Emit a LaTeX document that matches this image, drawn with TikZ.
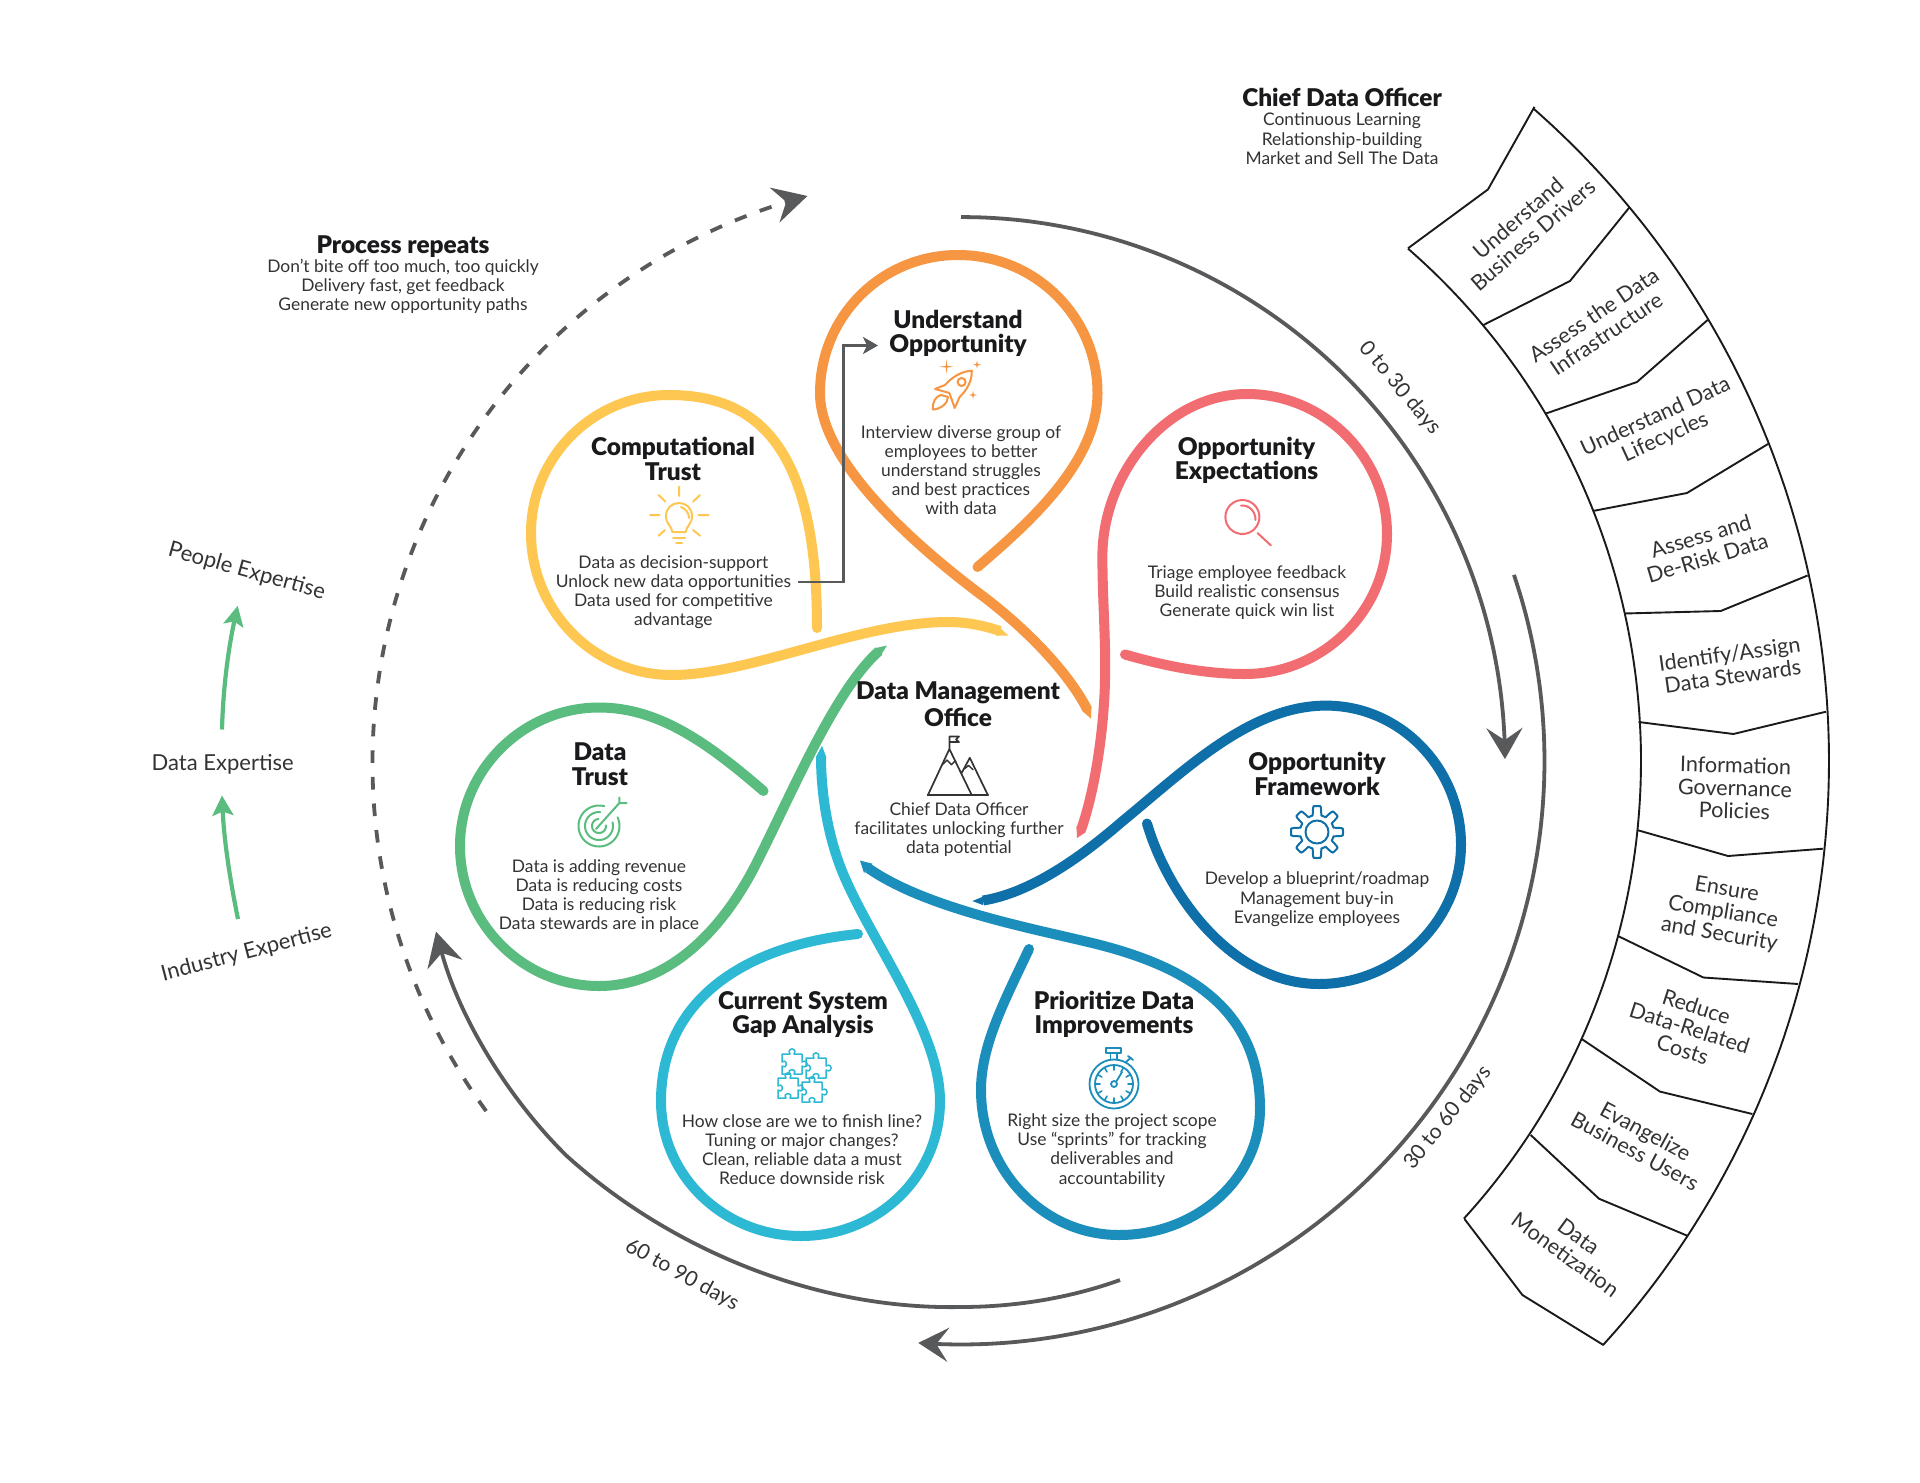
\documentclass[tikz,border=0pt]{standalone}
\usepackage{fontspec}
\setmainfont{Lato}
\newfontfamily\headfont{Lato Black}
\usetikzlibrary{arrows.meta}
\definecolor{cOrange}{HTML}{F79642}
\definecolor{cPink}{HTML}{F26D72}
\definecolor{cNavy}{HTML}{0F6FA8}
\definecolor{cTeal}{HTML}{1B8EBB}
\definecolor{cCyan}{HTML}{2DB9D3}
\definecolor{cGreen}{HTML}{5ABC7E}
\definecolor{cYellow}{HTML}{FEC752}
\definecolor{cGray}{HTML}{58595B}
\definecolor{cInk}{HTML}{1A1A1C}
\definecolor{cBody}{HTML}{333336}
\tikzset{
  bodytxt/.style={font=\fontsize{17.4}{19.1}\selectfont,align=center,text=cBody,inner sep=0pt},
  headtxt/.style={font=\fontsize{24.4}{24.6}\headfont,align=center,text=cInk,inner sep=0pt},
  bandtxt/.style={font=\fontsize{21.6}{22.6}\selectfont,align=center,text=cBody,inner sep=0pt},
  sidetxt/.style={font=\fontsize{22}{24}\selectfont,align=center,text=cBody,inner sep=0pt},
  daytxt/.style={font=\fontsize{21}{24}\selectfont,align=center,text=cBody,inner sep=0pt},
  ring/.style={line width=10pt,line join=round},
  bigarc/.style={line width=3.8pt,draw=cGray},
  icon/.style={line width=2pt,line cap=round,line join=round},
  band/.style={line width=1.9pt,draw=cInk,line join=miter},
}
\newcommand{\puzzlepc}[2]{%
  \draw[icon,line width=1.5pt,cCyan,shift={(#1,#2)}] (0,0) -- (8,0) .. controls (4,-7) and (16,-7) .. (12,0) -- (20,0) -- (20,8)
   .. controls (27,4) and (27,16) .. (20,12) -- (20,20) -- (12,20) .. controls (16,14) and (4,14) .. (8,20)
   -- (0,20) -- (0,12) .. controls (6,16) and (6,4) .. (0,8) -- cycle;}
\newcommand{\sparkle}[3]{%
  \fill[cOrange] (#1-#3,#2) -- (#1-0.8,#2-0.8) -- (#1,#2-#3) -- (#1+0.8,#2-0.8) -- (#1+#3,#2) -- (#1+0.8,#2+0.8) -- (#1,#2+#3) -- (#1-0.8,#2+0.8) -- cycle;}
\begin{document}
\begin{tikzpicture}[x=1pt,y=-1pt]
\useasboundingbox (0,0) rectangle (1920,1483);
\fill[white] (0,0) rectangle (1920,1483);

% big arcs
\draw[bigarc,-{Stealth[length=31pt,width=36pt,inset=12pt]}] plot[domain=-90:-0.2,samples=40,smooth] ({961+544*cos(\x)},{761+544*sin(\x)});
\draw[bigarc,-{Stealth[length=30pt,width=34pt,inset=12pt]}] plot[domain=-18.6:94.2,samples=50,smooth] ({961+583.5*cos(\x)},{761+583.5*sin(\x)});
\draw[bigarc,-{Stealth[length=34pt,width=36pt,inset=12pt]}] (1120,1280) .. controls (1070,1298) and (1015,1307) .. (961,1307) .. controls (810,1310) and (665,1245) .. (566.4,1155.6) .. controls (510,1100) and (460,1020) .. (436,931.6);
\draw[bigarc,dash pattern=on 12.6pt off 14pt,-{Stealth[length=34pt,width=36pt,inset=12pt]}] plot[domain=143.6:254.8,samples=60,smooth] ({961+(590-0.04*(\x-143.6))*cos(\x)},{761+(590-0.04*(\x-143.6))*sin(\x)});

% rings
\draw[ring,cYellow] (817,628) .. controls (817,450) and (760,395) .. (669,395) .. controls (593,395) and (531,457) .. (531,533) .. controls (531,611) and (594,675) .. (672,675) .. controls (750,675) and (860,622) .. (948,622) .. controls (968,622) and (985,626) .. (1000,631);
\fill[cYellow] (817,628) circle (5pt) (998,626) -- (1008.6,635.7) -- (996,635.5) -- cycle;
\draw[ring,cOrange] (977.5,567) .. controls (1027.5,524) and (1097.5,463) .. (1097.5,393) .. controls (1097.5,317) and (1035,255) .. (958,255) .. controls (881,255) and (820,317) .. (820,393) .. controls (820,455) and (897,532) .. (984,597) .. controls (1030,632) and (1070,675) .. (1087.5,710);
\fill[cOrange] (977.5,567) circle (5pt) (1091,718.6) -- (1091.4,707.5) -- (1083,711.6) -- cycle;
\draw[ring,cPink] (1125,654.5) .. controls (1165,666) and (1205,674) .. (1245,674) .. controls (1323,674) and (1387,611) .. (1387,534) .. controls (1387,457) and (1324,394) .. (1247,394) .. controls (1165,394) and (1102.4,475) .. (1102.4,556.5) .. controls (1102.4,600) and (1106,640) .. (1105,680) .. controls (1104,730) and (1095,790) .. (1081,830);
\fill[cPink] (1125,654.5) circle (5pt) (1077,838) -- (1076.5,826) -- (1086,832) -- cycle;
\draw[ring,cNavy] (1147,823.5) .. controls (1168,895) and (1232,984) .. (1319,984) .. controls (1396,984) and (1461,921) .. (1461,844.6) .. controls (1461,769) and (1401,705.6) .. (1326,705.6) .. controls (1250,705.6) and (1185,770) .. (1122,821.6) .. controls (1080,858) and (1030,893) .. (983,900.5);
\fill[cNavy] (1147,823.5) circle (5pt) (972.4,901) -- (984.5,896) -- (982.8,905) -- cycle;
\draw[ring,cTeal] (1029,949) .. controls (1005,1000) and (981,1045) .. (981,1090) .. controls (981,1170) and (1043,1235) .. (1119,1235) .. controls (1197,1235) and (1260,1178) .. (1260,1108.6) .. controls (1260,1010) and (1190,966) .. (1088,942) .. controls (1030,928) and (925,908) .. (868,868);
\fill[cTeal] (1029,949) circle (5pt) (860,860.6) -- (872.5,863.7) -- (864,873) -- cycle;
\draw[ring,cCyan] (858,934) .. controls (745,945) and (661,1000) .. (661,1101) .. controls (661,1176) and (724,1236) .. (801,1236) .. controls (878,1236) and (940,1176) .. (940,1101) .. controls (940,1030) and (870,940) .. (842,871) .. controls (828,836) and (821,795) .. (821,756);
\fill[cCyan] (858,934) circle (5pt) (822,745.8) -- (816.5,755.8) -- (826,756.5) -- cycle;
\draw[ring,cGreen] (763.5,791) .. controls (710,745) and (660,707.5) .. (599,707.5) .. controls (523,707.5) and (460,770) .. (460,846) .. controls (460,923) and (523,986) .. (599,986) .. controls (665,986) and (720,935) .. (756,864) .. controls (792,793) and (835,690) .. (879,651);
\fill[cGreen] (763.5,791) circle (5pt) (887,645.5) -- (876,648) -- (880,656.5) -- cycle;

% elbow connector from the Computational Trust text to Understand Opportunity
\coordinate (elbowstart) at (798,582);
\coordinate (elbowend) at (878,345.5);
\draw[line width=2.6pt,draw=cGray,-{Stealth[length=15pt,width=17pt,inset=4pt]}] (elbowstart) -| (843.5,345.5) -- (elbowend);

% green expertise arrows
\draw[line width=4.2pt,draw=cGreen,-{Stealth[length=20pt,width=20pt,inset=4pt]}] (222,729.5) .. controls (223,690) and (228,650) .. (237.7,605.8);
\draw[line width=4.2pt,draw=cGreen,-{Stealth[length=20pt,width=21pt,inset=4pt]}] (238,919) .. controls (230,880) and (224,840) .. (222,795.5);

% right band
\draw[band] plot[domain=-48.9:42.3,samples=60,smooth] ({961+680*cos(\x)},{761+680*sin(\x)});
\draw[band] plot[domain=-48.75:42.3,samples=60,smooth] ({961+868*cos(\x)},{761+868*sin(\x)});
\draw[band] (1534.5,106.8) -- (1488,189.4) -- (1408,248.3);
\draw[band] (1629.7,207) -- (1570,281) -- (1483.4,325);
\draw[band] (1707.6,320) -- (1637,382) -- (1546,413.5);
\draw[band] (1768,444) -- (1687,493) -- (1592.8,511);
\draw[band] (1807.6,575.5) -- (1720.7,611) -- (1624,613.5);
\draw[band] (1826,711.7) -- (1733.4,734) -- (1638.6,722);
\draw[band] (1823,848.7) -- (1728,856) -- (1637,830);
\draw[band] (1798,984) -- (1703.4,977.5) -- (1618,936);
\draw[band] (1752.4,1114) -- (1660,1091.6) -- (1581.7,1039);
\draw[band] (1687,1235.6) -- (1599,1198.7) -- (1530.7,1135);
\draw[band] (1603.4,1345) -- (1522.4,1295) -- (1464.5,1219);

\node[bandtxt,rotate=41] (b1) at (1526,226.5) {Understand\\Business Drivers};
\node[bandtxt,rotate=34] (b2) at (1600,324.5) {Assess the Data\\Infrastructure};
\node[bandtxt,rotate=24.6] (b3) at (1660.6,427.5) {Understand Data\\Lifecycles};
\node[bandtxt,rotate=16.7] (b4) at (1704,547) {Assess and\\De-Risk Data};
\node[bandtxt,rotate=8] (b5) at (1731,665) {Identify/Assign\\Data Stewards};
\node[bandtxt,rotate=-1.5] (b6) at (1735,788) {Information\\Governance\\Policies};
\node[bandtxt,rotate=-9.5] (b7) at (1723,912.5) {Ensure\\Compliance\\and Security};
\node[bandtxt,rotate=-17.7] (b8) at (1689.6,1028) {Reduce\\Data-Related\\Costs};
\node[bandtxt,rotate=-28.4] (b9) at (1640.4,1141) {Evangelize\\Business Users};
\node[bandtxt,rotate=-36] (b10) at (1572,1245.7) {Data\\Monetization};

% side labels
\node[sidetxt,rotate=-15.6] (lpeople) at (246.7,571.4) {People Expertise};
\node[sidetxt] (ldata) at (222.7,764) {Data Expertise};
\node[sidetxt,rotate=14.7] (lindustry) at (246.7,952.8) {Industry Expertise};
\node[daytxt,rotate=-50] (l030) at (1400,388) {0 to 30 days};
\node[daytxt,rotate=51] (l3060) at (1448,1118) {30 to 60 days};
\node[daytxt,rotate=-28.6] (l6090) at (682,1275) {60 to 90 days};

% headers
\node[headtxt] (hproc) at (403,247) {Process repeats};
\node[bodytxt] (tproc) at (403,286.7) {Don’t bite off too much, too quickly\\Delivery fast, get feedback\\Generate new opportunity paths};
\node[headtxt] (hcdo) at (1342,97.5) {Chief Data Officer};
\node[bodytxt] (tcdo) at (1342,138.7) {Continuous Learning\\Relationship-building\\Market and Sell The Data};

% blocks
\node[headtxt] (h1) at (958,333.5) {Understand\\Opportunity};
\node[bodytxt] (t1) at (961,470) {Interview diverse group of\\employees to better\\understand struggles\\and best practices\\with data};
\node[headtxt] (h2) at (1246.5,460.5) {Opportunity\\Expectations};
\node[bodytxt] (t2) at (1247,592.5) {Triage employee feedback\\Build realistic consensus\\Generate quick win list};
\node[headtxt] (h3) at (1317,774) {Opportunity\\Framework};
\node[bodytxt] (t3) at (1317,899.2) {Develop a blueprint/roadmap\\Management buy-in\\Evangelize employees};
\node[headtxt] (h4) at (1114,1014.5) {Prioritize Data\\Improvements};
\node[bodytxt] (t4) at (1112,1150.5) {Right size the project scope\\Use “sprints” for tracking\\deliverables and\\accountability};
\node[headtxt] (h5) at (803,1014.5) {Current System\\Gap Analysis};
\node[bodytxt] (t5) at (802,1149.6) {How close are we to finish line?\\Tuning or major changes?\\Clean, reliable data a must\\Reduce downside risk};
\node[headtxt] (h6) at (600,764) {Data\\Trust};
\node[bodytxt] (t6) at (599,896) {Data is adding revenue\\Data is reducing costs\\Data is reducing risk\\Data stewards are in place};
\node[headtxt] (h7) at (673,458.7) {Computational\\Trust};
\node[bodytxt] (t7) at (673.4,592.5) {Data as decision-support\\Unlock new data opportunities\\Data used for competitive\\advantage};
\node[headtxt,font=\fontsize{24.4}{27.4}\headfont] (h8) at (958,704) {Data Management\\Office};
\node[bodytxt] (t8) at (959,829.2) {Chief Data Officer\\facilitates unlocking further\\data potential};

% bulb icon
\draw[icon,cYellow] (679,486.7) -- (679,496) (650,515) -- (659.6,515) (698.6,515) -- (708.6,515)
  (658.6,495) -- (665.5,501.7) (700,495) -- (693,501.7) (658.6,535.7) -- (665,530) (700,535.7) -- (693,530);
\draw[icon,cYellow] (672.4,532) .. controls (671,525) and (666,524) .. (666,516) .. controls (666,508) and (672,503) .. (679,503) .. controls (686,503) and (692,508) .. (692,516) .. controls (692,524) and (687,525) .. (685.6,532) -- cycle;
\draw[icon,cYellow] (681,507) .. controls (686,509) and (689,513) .. (689,518);
\draw[icon,cYellow] (673,537.5) -- (685,537.5) (676,542.7) -- (682,542.7);

% rocket icon
\draw[icon,cOrange] (971.8,370.8) .. controls (962,371) and (952,377) .. (945,385) -- (935,389) -- (949.4,393) -- (954.7,408) -- (959.6,397) .. controls (967,390) and (972,381) .. (971.8,370.8) -- cycle;
\draw[icon,cOrange] (961.6,382) circle (4pt);
\draw[icon,cOrange] (933,409.6) .. controls (932,402) and (936,396) .. (941,395) -- (948,397) .. controls (948,403) and (941,409) .. (933,409.6) -- cycle;
\sparkle{946.5}{366.7}{7}
\sparkle{977}{364.7}{4}
\sparkle{973}{395}{4}

% magnifier icon
\draw[icon,cPink] (1242.4,517) circle (17pt);
\draw[icon,cPink] (1241,505.5) .. controls (1249,505) and (1255.5,511) .. (1255.5,520);
\draw[icon,cPink] (1257.5,533) -- (1271,545.5);

% gear icon
\draw[icon,cNavy] plot[domain=0:360,samples=193] ({1317+(21.5+4.5*max(-1,min(1,2.4*cos(8*\x))))*cos(\x)},{832+(21.5+4.5*max(-1,min(1,2.4*cos(8*\x))))*sin(\x)}) -- cycle;
\draw[icon,cNavy] (1317,832) circle (11.5pt);

% stopwatch icon
\draw[icon,line width=1.8pt,cTeal] (1114,1084) circle (24.5pt);
\draw[icon,line width=1.8pt,cTeal] (1114,1084) circle (19pt);
\draw[icon,line width=1.8pt,cTeal] (1106,1048) rectangle (1121,1053) (1110.5,1053) -- (1110.5,1059.5) (1117,1053) -- (1117,1059.5);
\draw[icon,line width=1.8pt,cTeal] (1126,1062) -- (1131,1057.5) (1128,1056) -- (1133,1060);
\foreach \a in {0,30,...,330}
  \draw[icon,line width=1.6pt,cTeal] ({1114+19*cos(\a)},{1084+19*sin(\a)}) -- ({1114+14*cos(\a)},{1084+14*sin(\a)});
\draw[icon,line width=1.8pt,cTeal] (1114,1084) circle (3pt) (1116,1082) -- (1122,1072);

% target icon
\draw[icon,cGreen] plot[domain=-25:285,samples=50,smooth] ({599+20.5*cos(\x)},{826+20.5*sin(\x)});
\draw[icon,cGreen] plot[domain=-15:275,samples=40,smooth] ({599+14*cos(\x)},{826+14*sin(\x)});
\draw[icon,cGreen] plot[domain=-5:265,samples=30,smooth] ({599+7*cos(\x)},{826+7*sin(\x)});
\draw[icon,cGreen] (596,829) -- (619.4,803) (619.4,797.5) -- (619.4,803) -- (626.7,803);

% puzzle icon
\puzzlepc{782}{1054}
\puzzlepc{806}{1058}
\puzzlepc{778}{1078}
\puzzlepc{802}{1082}

% mountains icon
\draw[icon,line width=1.7pt,cBody] (927.8,795.3) -- (949.4,749) -- (971.8,795.3) (961.6,773) -- (969.8,757.8) -- (988,795.3) (949.4,749) -- (949.4,736.5) -- (959,736.5) -- (956,739.5) -- (959,742) -- (949.4,742);
\draw[icon,line width=1.7pt,cBody] (927.8,795.3) -- (988,795.3);
\draw[icon,line width=1.4pt,cBody] (943,764) -- (947,760) -- (951.4,764.7) -- (955.5,760.6) (964.5,768.8) -- (968.5,765.5) -- (973,769.6);
\end{tikzpicture}
\end{document}
